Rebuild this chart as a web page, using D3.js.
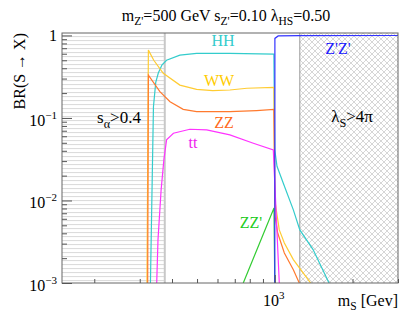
<body style="margin:0;background:#fff">
<svg id="chart"></svg>
</body>
<script src="https://d3js.org/d3.v7.min.js"></script>
<script>
// branching ratios, [mS in GeV, BR]
var hhData = [[330,0.001],[339,0.137],[346,0.27],[354,0.35],[366,0.44],[381,0.50],[429,0.578],[498,0.606],[670,0.606],[992,0.594],
              [1000,0.041],[1020,0.026],[1079,0.0162],[1180,0.0077],[1250,0.0044],[1407,0.00254],[1622,0.001]];
var wwData = [[320,0.001],[324,0.664],[340,0.50],[370,0.347],[429,0.25],[498,0.222],[575,0.214],[670,0.218],[780,0.229],[992,0.235],
              [1000,0.0102],[1041,0.0044],[1089,0.00305],[1180,0.00192],[1290,0.00132],[1377,0.001]];
var zzData = [[322,0.001],[324,0.331],[359,0.208],[393,0.157],[442,0.127],[498,0.119],[670,0.119],[850,0.123],[992,0.127],
              [1003,0.0064],[1027,0.004],[1089,0.00231],[1180,0.00145],[1244,0.001]];
var ttData = [[349,0.001],[353,0.00335],[363,0.0135],[372,0.031],[381,0.0542],[405,0.0653],[469,0.073],[545,0.0716],[670,0.0623],
              [826,0.0494],[987,0.041],[1041,0.001]];
var zzpData = [[755,0.001],[993,0.0081],[1000,0.001]];
var zpzpData = [[1000,0.001],[1001,0.92],[1031,0.985],[1250,0.995],[3000,0.998]];

var series = [
  {name:"HH", data:hhData, color:"#33cccc"},
  {name:"WW", data:wwData, color:"#ffcc33"},
  {name:"ZZ", data:zzData, color:"#ff7a2e"},
  {name:"tt", data:ttData, color:"#ff33ff"},
  {name:"ZZ'", data:zzpData, color:"#33cc33"},
  {name:"Z'Z'", data:zpzpData, color:"#3333ff"}
];

var xDomain = [150, 3000];
var yDomain = [0.001, 1.07];
var xTicks = [200,300,400,500,600,700,800,900,1000,2000,3000];
var yTicks = [1,0.1,0.01,0.001];
var yTickExp = ["1","-1","-2","-3"];
var excludedLow = 375;   // s_alpha > 0.4 below this mass
var excludedHigh = 1250; // lambda_S > 4pi above this mass

var FONT = "'Liberation Serif', 'Times New Roman', 'DejaVu Serif', serif";
var width = 415, height = 319;
var pad = {top:33, right:17, bottom:36, left:62};
var svg = d3.select("#chart").attr("width",width).attr("height",height);

var xScale = d3.scaleLog().domain(xDomain).range([pad.left, width - pad.right]);
var yScale = d3.scaleLog().domain(yDomain).range([height - pad.bottom, pad.top]);

var defs = svg.append("defs");
// horizontal hatch for left region
var hp = defs.append("pattern").attr("id","hlines").attr("patternUnits","userSpaceOnUse")
  .attr("width",8).attr("height",4);
hp.append("line").attr("x1",0).attr("x2",8).attr("y1",0.5).attr("y2",0.5)
  .attr("stroke","#dcdcdc").attr("stroke-width",1.2);
// cross hatch for right region
var cp = defs.append("pattern").attr("id","xhatch").attr("patternUnits","userSpaceOnUse")
  .attr("width",6).attr("height",6);
cp.append("path").attr("d","M0,0L6,6M0,6L6,0M-1,5L1,7M5,-1L7,1M-1,1L1,-1M5,7L7,5")
  .attr("stroke","#c8c8c8").attr("stroke-width",0.75).attr("fill","none");
defs.append("clipPath").attr("id","plotclip").append("rect")
  .attr("x",pad.left).attr("y",pad.top)
  .attr("width",width-pad.left-pad.right).attr("height",height-pad.top-pad.bottom);

var y0 = height - pad.bottom, y1 = pad.top;
// excluded regions
svg.append("rect").attr("x",pad.left).attr("y",y1)
  .attr("width",xScale(excludedLow)-pad.left).attr("height",y0-y1)
  .attr("fill","url(#hlines)");
svg.append("line").attr("x1",xScale(excludedLow)).attr("x2",xScale(excludedLow))
  .attr("y1",y1).attr("y2",y0).attr("stroke","#c8c8c8").attr("stroke-width",2);
svg.append("rect").attr("x",xScale(excludedHigh)).attr("y",y1)
  .attr("width",width-pad.right-xScale(excludedHigh)).attr("height",y0-y1)
  .attr("fill","url(#xhatch)");
svg.append("line").attr("x1",xScale(excludedHigh)).attr("x2",xScale(excludedHigh))
  .attr("y1",y1).attr("y2",y0).attr("stroke","#999").attr("stroke-width",1);

// curves
var line = d3.line().x(function(d){return xScale(d[0]);}).y(function(d){return yScale(d[1]);});
var g = svg.append("g").attr("clip-path","url(#plotclip)");
series.forEach(function(s){
  g.append("path").attr("d",line(s.data)).attr("fill","none")
    .attr("stroke",s.color).attr("stroke-width",1.2);
});

// frame
svg.append("rect").attr("x",pad.left).attr("y",y1)
  .attr("width",width-pad.left-pad.right).attr("height",y0-y1)
  .attr("fill","none").attr("stroke","#666").attr("stroke-width",1);

// ticks
var xAxis = d3.axisBottom(xScale).tickValues(xTicks).tickSize(-4).tickFormat("");
svg.append("g").attr("transform","translate(0,"+y0+")").call(xAxis)
  .call(function(a){a.select(".domain").remove(); a.selectAll("line").attr("stroke","#555");
    a.selectAll(".tick").filter(function(d){return d===1000;}).select("line").attr("y2",-8);});
var yMinor = [];
[0.001,0.01,0.1].forEach(function(b){for(var k=2;k<=9;k++) yMinor.push(b*k);});
svg.append("g").attr("transform","translate("+pad.left+",0)")
  .call(d3.axisLeft(yScale).tickValues(yMinor).tickSize(-5).tickFormat(""))
  .call(function(a){a.select(".domain").remove(); a.selectAll("line").attr("stroke","#555");});
svg.append("g").attr("transform","translate("+pad.left+",0)")
  .call(d3.axisLeft(yScale).tickValues(yTicks).tickSize(-10).tickFormat(""))
  .call(function(a){a.select(".domain").remove(); a.selectAll("line").attr("stroke","#555");});

// y tick labels
yTicks.forEach(function(v,i){
  var t = svg.append("text").attr("x",57).attr("y",yScale(v)+ (i===0?6:8))
    .attr("text-anchor","end").attr("font-size",16).attr("font-family",FONT).attr("fill","#000");
  if (i===0) { t.text("1"); }
  else {
    t.append("tspan").text("10");
    t.append("tspan").attr("dy",-7).attr("font-size",11).text("\u2212"+yTickExp[i].slice(1));
  }
});
// x tick label 10^3
var xl = svg.append("text").attr("x",xScale(1000)-1).attr("y",306).attr("text-anchor","middle")
  .attr("font-size",16).attr("font-family",FONT);
xl.append("tspan").text("10");
xl.append("tspan").attr("dy",-7).attr("font-size",11).text("3");

function rich(x, y, parts, size, color, anchor, rot){
  var t = svg.append("text").attr("x",x).attr("y",y).attr("font-size",size)
    .attr("font-family",FONT).attr("fill",color).attr("text-anchor",anchor||"middle");
  if (rot) t.attr("transform","rotate("+rot+","+x+","+y+")");
  var shift = 0;
  parts.forEach(function(p){
    var want = p[1]==="sub" ? size*0.28 : 0;
    t.append("tspan").attr("dy",want-shift).attr("font-size",p[1]==="sub"?size*0.72:size).text(p[0]);
    shift = want;
  });
  return t;
}

rich(226, 21, [["m","n"],["Z'","sub"],["=500 GeV s","n"],["Z'","sub"],["=0.10 \u03bb","n"],["HS","sub"],["=0.50","n"]], 16, "#000");
rich(25, 33, [["BR(S \u2192 X)","n"]], 16, "#000", "end", -90);
rich(398, 306, [["m","n"],["S","sub"],[" [Gev]","n"]], 16, "#000", "end");
rich(119, 123, [["s","n"],["\u03b1","sub"],[">0.4","n"]], 17, "#000");
rich(352, 122, [["\u03bb","n"],["S","sub"],[">4\u03c0","n"]], 17, "#000");

rich(223, 46, [["HH","n"]], 16, "#33cccc");
rich(219, 86, [["WW","n"]], 16, "#ffcc00");
rich(224, 128, [["ZZ","n"]], 16, "#ff6a1a");
rich(193, 148, [["tt","n"]], 16, "#ee22ee");
rich(251, 228, [["ZZ'","n"]], 16, "#22cc22");
rich(338, 54, [["Z'Z'","n"]], 16, "#1a1aff");
</script>
